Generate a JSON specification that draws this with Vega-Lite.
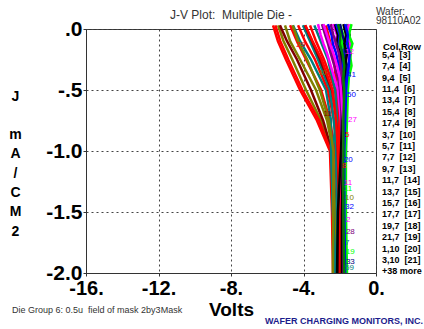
{
  "$schema": "https://vega.github.io/schema/vega-lite/v6.json",
  "width": 290,
  "height": 244,
  "autosize": {"type": "none"},
  "padding": {"left": 86, "top": 29, "right": 48, "bottom": 56},
  "background": "white",
  "config": {
    "view": {"stroke": "#333", "strokeWidth": 1},
    "axis": {"domainColor": "#333", "tickColor": "#333", "gridColor": "#444", "gridDash": [2, 3], "gridOpacity": 1, "labelFont": "Liberation Sans", "titleFont": "Liberation Sans"}
  },
  "datasets": {
    "curves": [
      {"d":"5,4\u00a0\u00a0[3]","v":-5.68,"j":0.03},{"d":"5,4\u00a0\u00a0[3]","v":-5.41,"j":-0.1},{"d":"5,4\u00a0\u00a0[3]","v":-4.97,"j":-0.25},{"d":"5,4\u00a0\u00a0[3]","v":-4.19,"j":-0.5},{"d":"5,4\u00a0\u00a0[3]","v":-3.26,"j":-0.75},{"d":"5,4\u00a0\u00a0[3]","v":-2.54,"j":-1.0},{"d":"5,4\u00a0\u00a0[3]","v":-2.43,"j":-1.5},{"d":"5,4\u00a0\u00a0[3]","v":-2.37,"j":-2.0},
      {"d":"7,4\u00a0\u00a0[4]","v":-5.4,"j":0.03},{"d":"7,4\u00a0\u00a0[4]","v":-5.1,"j":-0.1},{"d":"7,4\u00a0\u00a0[4]","v":-4.62,"j":-0.25},{"d":"7,4\u00a0\u00a0[4]","v":-3.86,"j":-0.5},{"d":"7,4\u00a0\u00a0[4]","v":-3.04,"j":-0.75},{"d":"7,4\u00a0\u00a0[4]","v":-2.46,"j":-1.0},{"d":"7,4\u00a0\u00a0[4]","v":-2.33,"j":-1.5},{"d":"7,4\u00a0\u00a0[4]","v":-2.32,"j":-2.0},
      {"d":"9,4\u00a0\u00a0[5]","v":-5.3,"j":0.03},{"d":"9,4\u00a0\u00a0[5]","v":-4.91,"j":-0.1},{"d":"9,4\u00a0\u00a0[5]","v":-4.36,"j":-0.25},{"d":"9,4\u00a0\u00a0[5]","v":-3.59,"j":-0.5},{"d":"9,4\u00a0\u00a0[5]","v":-2.92,"j":-0.75},{"d":"9,4\u00a0\u00a0[5]","v":-2.43,"j":-1.0},{"d":"9,4\u00a0\u00a0[5]","v":-2.2,"j":-1.5},{"d":"9,4\u00a0\u00a0[5]","v":-2.15,"j":-2.0},
      {"d":"11,4\u00a0\u00a0[6]","v":-5.55,"j":0.03},{"d":"11,4\u00a0\u00a0[6]","v":-5.28,"j":-0.1},{"d":"11,4\u00a0\u00a0[6]","v":-4.84,"j":-0.25},{"d":"11,4\u00a0\u00a0[6]","v":-4.06,"j":-0.5},{"d":"11,4\u00a0\u00a0[6]","v":-3.14,"j":-0.75},{"d":"11,4\u00a0\u00a0[6]","v":-2.5,"j":-1.0},{"d":"11,4\u00a0\u00a0[6]","v":-2.4,"j":-1.5},{"d":"11,4\u00a0\u00a0[6]","v":-2.34,"j":-2.0},
      {"d":"13,4\u00a0\u00a0[7]","v":-5.02,"j":0.03},{"d":"13,4\u00a0\u00a0[7]","v":-4.74,"j":-0.1},{"d":"13,4\u00a0\u00a0[7]","v":-4.19,"j":-0.25},{"d":"13,4\u00a0\u00a0[7]","v":-3.31,"j":-0.5},{"d":"13,4\u00a0\u00a0[7]","v":-2.7,"j":-0.75},{"d":"13,4\u00a0\u00a0[7]","v":-2.37,"j":-1.0},{"d":"13,4\u00a0\u00a0[7]","v":-2.26,"j":-1.5},{"d":"13,4\u00a0\u00a0[7]","v":-2.26,"j":-2.0},
      {"d":"15,4\u00a0\u00a0[8]","v":-4.74,"j":0.03},{"d":"15,4\u00a0\u00a0[8]","v":-4.36,"j":-0.1},{"d":"15,4\u00a0\u00a0[8]","v":-3.86,"j":-0.25},{"d":"15,4\u00a0\u00a0[8]","v":-3.03,"j":-0.5},{"d":"15,4\u00a0\u00a0[8]","v":-2.54,"j":-0.75},{"d":"15,4\u00a0\u00a0[8]","v":-2.26,"j":-1.0},{"d":"15,4\u00a0\u00a0[8]","v":-2.1,"j":-1.5},{"d":"15,4\u00a0\u00a0[8]","v":-2.04,"j":-2.0},
      {"d":"17,4\u00a0\u00a0[9]","v":-4.58,"j":0.03},{"d":"17,4\u00a0\u00a0[9]","v":-4.19,"j":-0.1},{"d":"17,4\u00a0\u00a0[9]","v":-3.59,"j":-0.25},{"d":"17,4\u00a0\u00a0[9]","v":-2.76,"j":-0.5},{"d":"17,4\u00a0\u00a0[9]","v":-2.48,"j":-0.75},{"d":"17,4\u00a0\u00a0[9]","v":-2.48,"j":-1.0},{"d":"17,4\u00a0\u00a0[9]","v":-2.37,"j":-1.5},{"d":"17,4\u00a0\u00a0[9]","v":-2.26,"j":-2.0},
      {"d":"3,7\u00a0\u00a0[10]","v":-4.3,"j":0.03},{"d":"3,7\u00a0\u00a0[10]","v":-3.92,"j":-0.1},{"d":"3,7\u00a0\u00a0[10]","v":-3.37,"j":-0.25},{"d":"3,7\u00a0\u00a0[10]","v":-2.65,"j":-0.5},{"d":"3,7\u00a0\u00a0[10]","v":-2.32,"j":-0.75},{"d":"3,7\u00a0\u00a0[10]","v":-2.15,"j":-1.0},{"d":"3,7\u00a0\u00a0[10]","v":-2.04,"j":-1.5},{"d":"3,7\u00a0\u00a0[10]","v":-1.99,"j":-2.0},
      {"d":"5,7\u00a0\u00a0[11]","v":-4.03,"j":0.03},{"d":"5,7\u00a0\u00a0[11]","v":-3.64,"j":-0.1},{"d":"5,7\u00a0\u00a0[11]","v":-3.2,"j":-0.25},{"d":"5,7\u00a0\u00a0[11]","v":-2.54,"j":-0.5},{"d":"5,7\u00a0\u00a0[11]","v":-2.32,"j":-0.75},{"d":"5,7\u00a0\u00a0[11]","v":-2.2,"j":-1.0},{"d":"5,7\u00a0\u00a0[11]","v":-2.15,"j":-1.5},{"d":"5,7\u00a0\u00a0[11]","v":-2.1,"j":-2.0},
      {"d":"7,7\u00a0\u00a0[12]","v":-3.92,"j":0.03},{"d":"7,7\u00a0\u00a0[12]","v":-3.53,"j":-0.1},{"d":"7,7\u00a0\u00a0[12]","v":-3.09,"j":-0.25},{"d":"7,7\u00a0\u00a0[12]","v":-2.43,"j":-0.5},{"d":"7,7\u00a0\u00a0[12]","v":-2.15,"j":-0.75},{"d":"7,7\u00a0\u00a0[12]","v":-2.1,"j":-1.0},{"d":"7,7\u00a0\u00a0[12]","v":-2.04,"j":-1.5},{"d":"7,7\u00a0\u00a0[12]","v":-2.04,"j":-2.0},
      {"d":"9,7\u00a0\u00a0[13]","v":-3.64,"j":0.03},{"d":"9,7\u00a0\u00a0[13]","v":-3.31,"j":-0.1},{"d":"9,7\u00a0\u00a0[13]","v":-2.87,"j":-0.25},{"d":"9,7\u00a0\u00a0[13]","v":-2.26,"j":-0.5},{"d":"9,7\u00a0\u00a0[13]","v":-2.04,"j":-0.75},{"d":"9,7\u00a0\u00a0[13]","v":-1.99,"j":-1.0},{"d":"9,7\u00a0\u00a0[13]","v":-1.93,"j":-1.5},{"d":"9,7\u00a0\u00a0[13]","v":-1.88,"j":-2.0},
      {"d":"d23","v":-2.76,"j":0.03},{"d":"d23","v":-2.54,"j":-0.1},{"d":"d23","v":-2.32,"j":-0.25},{"d":"d23","v":-2.15,"j":-0.5},{"d":"d23","v":-2.04,"j":-0.75},{"d":"d23","v":-2.04,"j":-1.0},{"d":"d23","v":-1.99,"j":-1.5},{"d":"d23","v":-1.93,"j":-2.0},
      {"d":"d29","v":-3.4,"j":0.03},{"d":"d29","v":-3.05,"j":-0.1},{"d":"d29","v":-2.65,"j":-0.25},{"d":"d29","v":-2.25,"j":-0.5},{"d":"d29","v":-2.15,"j":-0.75},{"d":"d29","v":-2.45,"j":-1.0},{"d":"d29","v":-2.38,"j":-1.5},{"d":"d29","v":-2.22,"j":-2.0},
      {"d":"d30","v":-3.9,"j":0.03},{"d":"d30","v":-3.5,"j":-0.1},{"d":"d30","v":-3.0,"j":-0.25},{"d":"d30","v":-2.4,"j":-0.5},{"d":"d30","v":-2.2,"j":-0.75},{"d":"d30","v":-2.1,"j":-1.0},{"d":"d30","v":-2.0,"j":-1.5},{"d":"d30","v":-1.95,"j":-2.0},
      {"d":"d31","v":-4.6,"j":0.03},{"d":"d31","v":-4.3,"j":-0.1},{"d":"d31","v":-3.8,"j":-0.25},{"d":"d31","v":-3.1,"j":-0.5},{"d":"d31","v":-2.6,"j":-0.75},{"d":"d31","v":-2.35,"j":-1.0},{"d":"d31","v":-2.36,"j":-1.5},{"d":"d31","v":-2.38,"j":-2.0},
      {"d":"11,7\u00a0\u00a0[14]","v":-3.2,"j":0.04},{"d":"11,7\u00a0\u00a0[14]","v":-3.05,"j":-0.05},{"d":"11,7\u00a0\u00a0[14]","v":-2.9,"j":-0.12},{"d":"11,7\u00a0\u00a0[14]","v":-2.7,"j":-0.2},{"d":"11,7\u00a0\u00a0[14]","v":-2.5,"j":-0.3},{"d":"11,7\u00a0\u00a0[14]","v":-2.3,"j":-0.4},{"d":"11,7\u00a0\u00a0[14]","v":-2.1,"j":-0.5},{"d":"11,7\u00a0\u00a0[14]","v":-1.93,"j":-0.75},{"d":"11,7\u00a0\u00a0[14]","v":-1.88,"j":-1.0},{"d":"11,7\u00a0\u00a0[14]","v":-1.88,"j":-1.5},{"d":"11,7\u00a0\u00a0[14]","v":-1.82,"j":-2.0},
      {"d":"13,7\u00a0\u00a0[15]","v":-2.98,"j":0.04},{"d":"13,7\u00a0\u00a0[15]","v":-2.8,"j":-0.05},{"d":"13,7\u00a0\u00a0[15]","v":-2.65,"j":-0.12},{"d":"13,7\u00a0\u00a0[15]","v":-2.5,"j":-0.2},{"d":"13,7\u00a0\u00a0[15]","v":-2.3,"j":-0.3},{"d":"13,7\u00a0\u00a0[15]","v":-2.1,"j":-0.4},{"d":"13,7\u00a0\u00a0[15]","v":-1.99,"j":-0.5},{"d":"13,7\u00a0\u00a0[15]","v":-1.88,"j":-0.75},{"d":"13,7\u00a0\u00a0[15]","v":-1.82,"j":-1.0},{"d":"13,7\u00a0\u00a0[15]","v":-1.82,"j":-1.5},{"d":"13,7\u00a0\u00a0[15]","v":-1.82,"j":-2.0},
      {"d":"15,7\u00a0\u00a0[16]","v":-2.65,"j":0.04},{"d":"15,7\u00a0\u00a0[16]","v":-2.45,"j":-0.05},{"d":"15,7\u00a0\u00a0[16]","v":-2.38,"j":-0.12},{"d":"15,7\u00a0\u00a0[16]","v":-2.2,"j":-0.2},{"d":"15,7\u00a0\u00a0[16]","v":-2.05,"j":-0.3},{"d":"15,7\u00a0\u00a0[16]","v":-1.93,"j":-0.4},{"d":"15,7\u00a0\u00a0[16]","v":-1.88,"j":-0.5},{"d":"15,7\u00a0\u00a0[16]","v":-1.82,"j":-0.75},{"d":"15,7\u00a0\u00a0[16]","v":-1.77,"j":-1.0},{"d":"15,7\u00a0\u00a0[16]","v":-1.77,"j":-1.5},{"d":"15,7\u00a0\u00a0[16]","v":-1.77,"j":-2.0},
      {"d":"17,7\u00a0\u00a0[17]","v":-2.37,"j":0.04},{"d":"17,7\u00a0\u00a0[17]","v":-2.15,"j":-0.05},{"d":"17,7\u00a0\u00a0[17]","v":-2.25,"j":-0.12},{"d":"17,7\u00a0\u00a0[17]","v":-2.0,"j":-0.2},{"d":"17,7\u00a0\u00a0[17]","v":-1.9,"j":-0.3},{"d":"17,7\u00a0\u00a0[17]","v":-1.95,"j":-0.4},{"d":"17,7\u00a0\u00a0[17]","v":-1.82,"j":-0.5},{"d":"17,7\u00a0\u00a0[17]","v":-1.77,"j":-0.75},{"d":"17,7\u00a0\u00a0[17]","v":-1.77,"j":-1.0},{"d":"17,7\u00a0\u00a0[17]","v":-1.77,"j":-1.5},{"d":"17,7\u00a0\u00a0[17]","v":-1.71,"j":-2.0},
      {"d":"19,7\u00a0\u00a0[18]","v":-2.0,"j":0.04},{"d":"19,7\u00a0\u00a0[18]","v":-1.8,"j":-0.05},{"d":"19,7\u00a0\u00a0[18]","v":-1.9,"j":-0.12},{"d":"19,7\u00a0\u00a0[18]","v":-1.65,"j":-0.2},{"d":"19,7\u00a0\u00a0[18]","v":-1.75,"j":-0.3},{"d":"19,7\u00a0\u00a0[18]","v":-1.6,"j":-0.4},{"d":"19,7\u00a0\u00a0[18]","v":-1.71,"j":-0.5},{"d":"19,7\u00a0\u00a0[18]","v":-1.77,"j":-0.75},{"d":"19,7\u00a0\u00a0[18]","v":-1.82,"j":-1.0},{"d":"19,7\u00a0\u00a0[18]","v":-1.82,"j":-1.5},{"d":"19,7\u00a0\u00a0[18]","v":-1.77,"j":-2.0},
      {"d":"21,7\u00a0\u00a0[19]","v":-2.26,"j":0.04},{"d":"21,7\u00a0\u00a0[19]","v":-2.1,"j":-0.05},{"d":"21,7\u00a0\u00a0[19]","v":-2.15,"j":-0.12},{"d":"21,7\u00a0\u00a0[19]","v":-1.95,"j":-0.2},{"d":"21,7\u00a0\u00a0[19]","v":-1.85,"j":-0.3},{"d":"21,7\u00a0\u00a0[19]","v":-1.9,"j":-0.4},{"d":"21,7\u00a0\u00a0[19]","v":-1.82,"j":-0.5},{"d":"21,7\u00a0\u00a0[19]","v":-1.88,"j":-0.75},{"d":"21,7\u00a0\u00a0[19]","v":-1.93,"j":-1.0},{"d":"21,7\u00a0\u00a0[19]","v":-2.1,"j":-1.5},{"d":"21,7\u00a0\u00a0[19]","v":-2.15,"j":-2.0},
      {"d":"1,10\u00a0\u00a0[20]","v":-1.99,"j":0.04},{"d":"1,10\u00a0\u00a0[20]","v":-1.85,"j":-0.05},{"d":"1,10\u00a0\u00a0[20]","v":-1.7,"j":-0.12},{"d":"1,10\u00a0\u00a0[20]","v":-1.75,"j":-0.2},{"d":"1,10\u00a0\u00a0[20]","v":-1.6,"j":-0.3},{"d":"1,10\u00a0\u00a0[20]","v":-1.66,"j":-0.4},{"d":"1,10\u00a0\u00a0[20]","v":-1.66,"j":-0.5},{"d":"1,10\u00a0\u00a0[20]","v":-1.71,"j":-0.75},{"d":"1,10\u00a0\u00a0[20]","v":-1.71,"j":-1.0},{"d":"1,10\u00a0\u00a0[20]","v":-1.71,"j":-1.5},{"d":"1,10\u00a0\u00a0[20]","v":-1.66,"j":-2.0},
      {"d":"3,10\u00a0\u00a0[21]","v":-1.6,"j":0.04},{"d":"3,10\u00a0\u00a0[21]","v":-1.45,"j":-0.05},{"d":"3,10\u00a0\u00a0[21]","v":-1.55,"j":-0.12},{"d":"3,10\u00a0\u00a0[21]","v":-1.4,"j":-0.2},{"d":"3,10\u00a0\u00a0[21]","v":-1.5,"j":-0.3},{"d":"3,10\u00a0\u00a0[21]","v":-1.6,"j":-0.4},{"d":"3,10\u00a0\u00a0[21]","v":-1.66,"j":-0.5},{"d":"3,10\u00a0\u00a0[21]","v":-1.71,"j":-0.75},{"d":"3,10\u00a0\u00a0[21]","v":-1.77,"j":-1.0},{"d":"3,10\u00a0\u00a0[21]","v":-1.77,"j":-1.5},{"d":"3,10\u00a0\u00a0[21]","v":-1.71,"j":-2.0},
      {"d":"d22","v":-1.5,"j":0.04},{"d":"d22","v":-1.6,"j":-0.05},{"d":"d22","v":-1.4,"j":-0.12},{"d":"d22","v":-1.55,"j":-0.2},{"d":"d22","v":-1.45,"j":-0.3},{"d":"d22","v":-1.55,"j":-0.4},{"d":"d22","v":-1.6,"j":-0.5},{"d":"d22","v":-1.66,"j":-0.75},{"d":"d22","v":-1.71,"j":-1.0},{"d":"d22","v":-1.71,"j":-1.5},{"d":"d22","v":-1.66,"j":-2.0},
      {"d":"d24","v":-2.2,"j":0.04},{"d":"d24","v":-2.0,"j":-0.05},{"d":"d24","v":-2.05,"j":-0.12},{"d":"d24","v":-1.8,"j":-0.2},{"d":"d24","v":-1.85,"j":-0.3},{"d":"d24","v":-1.7,"j":-0.4},{"d":"d24","v":-1.6,"j":-0.5},{"d":"d24","v":-1.66,"j":-0.75},{"d":"d24","v":-1.66,"j":-1.0},{"d":"d24","v":-1.71,"j":-1.5},{"d":"d24","v":-1.71,"j":-2.0},
      {"d":"d25","v":-1.35,"j":0.04},{"d":"d25","v":-1.5,"j":-0.05},{"d":"d25","v":-1.3,"j":-0.12},{"d":"d25","v":-1.45,"j":-0.2},{"d":"d25","v":-1.35,"j":-0.3},{"d":"d25","v":-1.5,"j":-0.4},{"d":"d25","v":-1.55,"j":-0.5},{"d":"d25","v":-1.6,"j":-0.75},{"d":"d25","v":-1.66,"j":-1.0},{"d":"d25","v":-1.66,"j":-1.5},{"d":"d25","v":-1.6,"j":-2.0},
      {"d":"d26","v":-2.5,"j":0.04},{"d":"d26","v":-2.35,"j":-0.05},{"d":"d26","v":-2.2,"j":-0.12},{"d":"d26","v":-2.05,"j":-0.2},{"d":"d26","v":-1.95,"j":-0.3},{"d":"d26","v":-1.85,"j":-0.4},{"d":"d26","v":-1.77,"j":-0.5},{"d":"d26","v":-1.77,"j":-0.75},{"d":"d26","v":-1.82,"j":-1.0},{"d":"d26","v":-1.82,"j":-1.5},{"d":"d26","v":-1.77,"j":-2.0},
      {"d":"d27","v":-1.8,"j":0.04},{"d":"d27","v":-1.65,"j":-0.05},{"d":"d27","v":-1.75,"j":-0.12},{"d":"d27","v":-1.6,"j":-0.2},{"d":"d27","v":-1.7,"j":-0.3},{"d":"d27","v":-1.75,"j":-0.4},{"d":"d27","v":-1.77,"j":-0.5},{"d":"d27","v":-1.8,"j":-0.75},{"d":"d27","v":-1.82,"j":-1.0},{"d":"d27","v":-1.88,"j":-1.5},{"d":"d27","v":-1.88,"j":-2.0},
      {"d":"d28","v":-2.9,"j":0.04},{"d":"d28","v":-2.7,"j":-0.05},{"d":"d28","v":-2.55,"j":-0.12},{"d":"d28","v":-2.35,"j":-0.2},{"d":"d28","v":-2.15,"j":-0.3},{"d":"d28","v":-2.0,"j":-0.4},{"d":"d28","v":-1.93,"j":-0.5},{"d":"d28","v":-1.82,"j":-0.75},{"d":"d28","v":-1.8,"j":-1.0},{"d":"d28","v":-1.77,"j":-1.5},{"d":"d28","v":-1.77,"j":-2.0},
      {"d":"d32","v":-1.7,"j":0.04},{"d":"d32","v":-1.55,"j":-0.05},{"d":"d32","v":-1.6,"j":-0.12},{"d":"d32","v":-1.45,"j":-0.2},{"d":"d32","v":-1.5,"j":-0.3},{"d":"d32","v":-1.6,"j":-0.4},{"d":"d32","v":-1.65,"j":-0.5},{"d":"d32","v":-1.7,"j":-0.75},{"d":"d32","v":-1.75,"j":-1.0},{"d":"d32","v":-1.75,"j":-1.5},{"d":"d32","v":-1.7,"j":-2.0},
      {"d":"d33","v":-2.1,"j":0.04},{"d":"d33","v":-1.95,"j":-0.05},{"d":"d33","v":-2.0,"j":-0.12},{"d":"d33","v":-1.85,"j":-0.2},{"d":"d33","v":-1.75,"j":-0.3},{"d":"d33","v":-1.8,"j":-0.4},{"d":"d33","v":-1.75,"j":-0.5},{"d":"d33","v":-1.8,"j":-0.75},{"d":"d33","v":-1.8,"j":-1.0},{"d":"d33","v":-1.8,"j":-1.5},{"d":"d33","v":-1.75,"j":-2.0}
    ],
    "labels": [
      {"d":"d24","v":-1.77,"j":-1.074,"t":"20"},{"d":"d23","v":-1.88,"j":-1.12,"t":"8"},{"d":"d22","v":-1.77,"j":-1.262,"t":"11"},{"d":"d25","v":-1.77,"j":-1.311,"t":"11"},{"d":"d31","v":-1.71,"j":-1.385,"t":"10"},{"d":"d24","v":-1.71,"j":-1.459,"t":"32"},{"d":"d22","v":-1.66,"j":-1.566,"t":"2"},{"d":"d26","v":-1.66,"j":-1.664,"t":"28"},{"d":"d29","v":-1.71,"j":-1.754,"t":"7"},{"d":"d25","v":-1.66,"j":-1.828,"t":"19"},{"d":"1,10\u00a0\u00a0[20]","v":-1.66,"j":-1.91,"t":"33"},{"d":"d29","v":-1.71,"j":-1.959,"t":"59"},{"d":"d32","v":-1.6,"j":-0.377,"t":"41"},{"d":"d32","v":-1.6,"j":-0.541,"t":"50"},{"d":"d28","v":-1.545,"j":-0.746,"t":"27"},{"d":"d30","v":-1.71,"j":-0.869,"t":"5"},{"d":"d28","v":-1.71,"j":-0.189,"t":"12"},{"d":"9,4\u00a0\u00a0[5]","v":-2.9,"j":-0.7,"t":"11"},{"d":"d30","v":-4.4,"j":-0.13,"t":"29"},{"d":"13,4\u00a0\u00a0[7]","v":-3.2,"j":-0.36,"t":"30"}
    ]
  },
  "layer": [
    {
      "data": {"name": "curves"},
      "mark": {"type": "line", "strokeWidth": 2.5, "clip": false},
      "encoding": {
        "x": {"field": "v", "type": "quantitative", "scale": {"domain": [-16, 0], "nice": false, "zero": false},
          "axis": {"values": [-16, -12, -8, -4, 0], "labelExpr": "datum.value + '.'", "labelFontSize": 20, "labelFontWeight": "bold", "labelColor": "#000", "labelPadding": 2, "labelFlush": false, "labelOverlap": false, "tickSize": 3, "grid": true,
            "title": "Volts", "titleFontSize": 19, "titleFontWeight": "bold", "titleColor": "#000", "titleBaseline": "alphabetic", "titleY": 42}},
        "y": {"field": "j", "type": "quantitative", "scale": {"domain": [-2, 0], "nice": false, "zero": false},
          "axis": {"values": [0, -0.5, -1, -1.5, -2], "labelExpr": "datum.value == 0 ? '.0' : datum.value == -0.5 ? '-.5' : datum.value == -1 ? '-1.0' : datum.value == -1.5 ? '-1.5' : '-2.0'", "labelFontSize": 21, "labelFontWeight": "bold", "labelColor": "#000", "labelPadding": 1, "labelFlush": false, "labelOverlap": false, "tickSize": 3, "grid": true,
            "title": ["J", "\u200b", "m", "A", "/", "C", "M", "2"], "titleAngle": 0, "titleX": -71, "titleY": 71, "titleAlign": "center", "titleBaseline": "alphabetic", "titleLineHeight": 19.3, "titleFontSize": 14, "titleFontWeight": "bold", "titleColor": "#000"}},
        "color": {"field": "d", "type": "nominal",
          "scale": {
            "domain": ["5,4\u00a0\u00a0[3]","7,4\u00a0\u00a0[4]","9,4\u00a0\u00a0[5]","11,4\u00a0\u00a0[6]","13,4\u00a0\u00a0[7]","15,4\u00a0\u00a0[8]","17,4\u00a0\u00a0[9]","3,7\u00a0\u00a0[10]","5,7\u00a0\u00a0[11]","7,7\u00a0\u00a0[12]","9,7\u00a0\u00a0[13]","11,7\u00a0\u00a0[14]","13,7\u00a0\u00a0[15]","15,7\u00a0\u00a0[16]","17,7\u00a0\u00a0[17]","19,7\u00a0\u00a0[18]","21,7\u00a0\u00a0[19]","1,10\u00a0\u00a0[20]","3,10\u00a0\u00a0[21]","d22","d23","d24","d25","d26","d27","d28","d29","d30","d31","d32","d33","+38 more"],
            "range": ["#ff0000","#808000","#800000","#ff0000","#808000","#ff0000","#008080","#ff0000","#008080","#800000","#ff0000","#ff00ff","#800080","#0000ff","#ff00ff","#00ff00","#000000","#000080","#008000","#ff00ff","#ff0000","#0000ff","#00ff00","#800080","#000000","#ff00ff","#008080","#ff0000","#808000","#0000ff","#008000","#000000"]
          },
          "legend": {
            "title": "Col,Row", "orient": "none", "direction": "vertical", "legendX": 297, "legendY": 12.7, "padding": 0,
            "values": ["5,4\u00a0\u00a0[3]","7,4\u00a0\u00a0[4]","9,4\u00a0\u00a0[5]","11,4\u00a0\u00a0[6]","13,4\u00a0\u00a0[7]","15,4\u00a0\u00a0[8]","17,4\u00a0\u00a0[9]","3,7\u00a0\u00a0[10]","5,7\u00a0\u00a0[11]","7,7\u00a0\u00a0[12]","9,7\u00a0\u00a0[13]","11,7\u00a0\u00a0[14]","13,7\u00a0\u00a0[15]","15,7\u00a0\u00a0[16]","17,7\u00a0\u00a0[17]","19,7\u00a0\u00a0[18]","21,7\u00a0\u00a0[19]","1,10\u00a0\u00a0[20]","3,10\u00a0\u00a0[21]","+38 more"],
            "symbolOpacity": 0, "symbolSize": 1, "symbolStrokeWidth": 0, "labelOffset": -10,
            "labelFont": "Liberation Sans", "labelFontSize": 9, "labelFontWeight": "bold", "labelColor": "#000", "labelLimit": 0,
            "titleFont": "Liberation Sans", "titleFontSize": 9.5, "titleFontWeight": "bold", "titleColor": "#000", "titlePadding": -1, "rowPadding": 1.4
          }
        },
        "order": {"field": "j", "sort": "descending"}
      }
    },
    {
      "data": {"name": "labels"},
      "mark": {"type": "text", "font": "Liberation Sans", "fontSize": 8, "align": "left", "baseline": "middle"},
      "encoding": {
        "x": {"field": "v", "type": "quantitative"},
        "y": {"field": "j", "type": "quantitative"},
        "text": {"field": "t"},
        "color": {"field": "d", "type": "nominal", "legend": null}
      }
    },
    {
      "data": {"values": [{}]},
      "mark": {"type": "text", "text": "J-V Plot:\u00a0 Multiple Die -", "font": "Liberation Sans", "fontSize": 12, "align": "center", "baseline": "alphabetic", "color": "#333"},
      "encoding": {"x": {"datum": -8.0}, "y": {"datum": 0.082}}
    },
    {
      "data": {"values": [{}]},
      "mark": {"type": "text", "text": "Die Group 6: 0.5u\u00a0 field of mask 2by3Mask", "font": "Liberation Sans", "fontSize": 9, "align": "left", "baseline": "alphabetic", "color": "#333"},
      "encoding": {"x": {"datum": -20.08}, "y": {"datum": -2.328}}
    },
    {
      "data": {"values": [{}]},
      "mark": {"type": "text", "text": "WAFER CHARGING MONITORS, INC.", "font": "Liberation Sans", "fontSize": 9, "fontWeight": "bold", "align": "right", "baseline": "alphabetic", "color": "#1c1c8c"},
      "encoding": {"x": {"datum": 2.59}, "y": {"datum": -2.422}}
    },
    {
      "data": {"values": [{}]},
      "mark": {"type": "text", "text": ["Wafer:", "98110A02"], "font": "Liberation Sans", "fontSize": 10, "lineHeight": 9.5, "align": "left", "baseline": "alphabetic", "color": "#333"},
      "encoding": {"x": {"datum": 0}, "y": {"datum": 0.1148}}
    }
  ]
}
